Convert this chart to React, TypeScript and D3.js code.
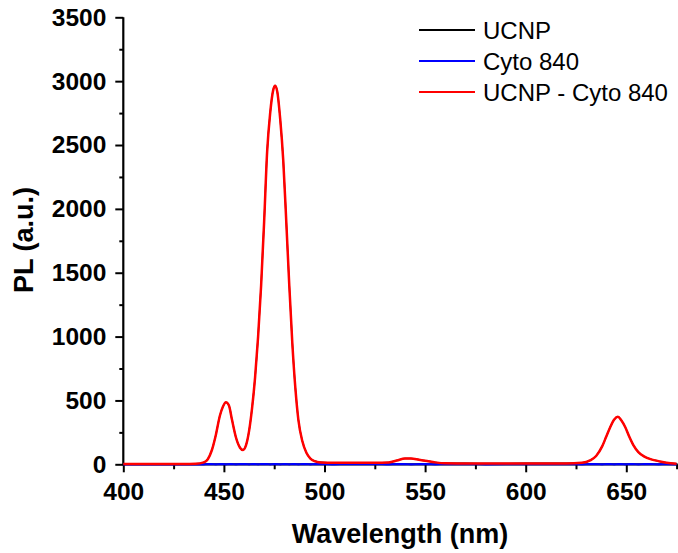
import { useEffect, useRef } from 'react';
import * as d3 from 'd3';

// wavelength grid (nm) and the three spectra
const wavelengths = [
  400, 410, 420, 430, 436, 440, 442, 444, 446, 448, 449.5, 451, 452.5, 454, 456, 458, 459.5,
  461, 462.5, 464, 465.5, 467, 468.5, 470, 471.5, 473, 474.5, 475.5, 476.5, 478, 479.5, 481,
  482.5, 484, 485.5, 487, 489, 491, 493, 495, 498, 505, 515, 525, 532, 536, 540, 543, 547,
  551, 555, 560, 570, 580, 600, 620, 628, 632, 635, 638, 640, 642, 644, 645.8, 647.5, 649.5,
  651.5, 653.5, 656, 659, 662, 666, 670, 675,
];
const ucnpMinusCyto = [
  2, 2, 2, 2, 4, 15, 40, 110, 230, 380, 450, 485, 460, 350, 210, 130, 112,
  150, 260, 440, 680, 1000, 1400, 1900, 2450, 2750, 2930, 2965, 2920, 2700, 2380, 1900,
  1400, 950, 600, 350, 180, 90, 45, 25, 15, 12, 12, 12, 15, 30, 45, 45, 35,
  25, 15, 8, 7, 7, 7, 7, 12, 30, 65, 140, 215, 290, 350, 372, 345, 290,
  215, 150, 95, 60, 40, 25, 12, 5,
];
const cyto840 = [
  0, 0, 0, 0, 0, 0, 1, 1, 0, 1, 1, 0, 1, 1, 0, 1, 1,
  1, 0, 1, 1, 0, 1, 1, 1, 0, 1, 1, 1, 0, 1, 1,
  0, 1, 1, 0, 1, 1, 0, 1, 1, 0, 1, 1, 0, 1, 1, 0, 1,
  1, 0, 1, 1, 0, 1, 1, 0, 1, 1, 0, 1, 1, 0, 1, 1, 0,
  1, 1, 0, 1, 1, 0, 1, 0,
];
const ucnp = [
  2, 2, 2, 2, 4, 15, 41, 111, 230, 381, 451, 485, 461, 351, 210, 131, 113,
  151, 260, 441, 681, 1000, 1401, 1901, 2451, 2750, 2931, 2966, 2921, 2700, 2381, 1901,
  1400, 951, 601, 350, 181, 91, 45, 26, 16, 12, 13, 13, 15, 31, 46, 45, 36,
  26, 15, 9, 8, 7, 8, 8, 12, 31, 66, 140, 216, 291, 350, 373, 346, 290,
  216, 151, 95, 61, 41, 25, 13, 5,
];

const seriesNames = ['UCNP', 'Cyto 840', 'UCNP - Cyto 840'];
const seriesColors = ['#000000', '#0000ff', '#ff0000'];
const seriesWidths = [1.4, 2.2, 2.5];
const xMajorTicks = [400, 450, 500, 550, 600, 650];
const xMinorTicks = [425, 475, 525, 575, 625, 675];
const yMajorTicks = [0, 500, 1000, 1500, 2000, 2500, 3000, 3500];
const yMinorTicks = [250, 750, 1250, 1750, 2250, 2750, 3250];

const width = 678;
const height = 553;
const font = "'Liberation Sans', Arial, sans-serif";

const App = () => {
  const ref = useRef<SVGSVGElement>(null);

  useEffect(() => {
    const svg = d3.select(ref.current);
    svg.selectAll('*').remove();

    const x = d3.scaleLinear().domain([400, 675]).range([123.3, 676.6]);
    const y = d3.scaleLinear().domain([0, 3500]).range([464.3, 17.3]);

    // minor ticks
    const gxMinor = svg.append('g')
      .attr('transform', `translate(0,${y(0)})`)
      .call(d3.axisBottom(x).tickValues(xMinorTicks).tickSize(5).tickSizeOuter(0).tickFormat(() => ''));
    const gyMinor = svg.append('g')
      .attr('transform', `translate(${x(400)},0)`)
      .call(d3.axisLeft(y).tickValues(yMinorTicks).tickSize(4).tickSizeOuter(0).tickFormat(() => ''));
    [gxMinor, gyMinor].forEach(g => {
      g.select('.domain').remove();
      g.selectAll('line').attr('stroke-width', 2);
    });

    // major ticks + labels
    const gx = svg.append('g')
      .attr('transform', `translate(0,${y(0)})`)
      .call(d3.axisBottom(x).tickValues(xMajorTicks).tickSize(8).tickSizeOuter(0).tickPadding(10).tickFormat(d3.format('d')));
    const gy = svg.append('g')
      .attr('transform', `translate(${x(400)},0)`)
      .call(d3.axisLeft(y).tickValues(yMajorTicks).tickSize(8).tickSizeOuter(0).tickPadding(9).tickFormat(d3.format('d')));
    [gx, gy].forEach(g => {
      g.select('.domain').attr('stroke-width', 2.2);
      g.selectAll('line').attr('stroke-width', 2);
      g.selectAll('text')
        .attr('font-family', font)
        .attr('font-size', 24.5)
        .attr('font-weight', 'bold')
        .attr('fill', '#000');
    });
    gx.select('.domain').attr('d', `M${x(400)},0H${x(675) + 1}`);
    gy.select('.domain').attr('d', `M0,${y(0) + 1}V${y(3500)}`);

    // spectra on top of the axes: black under blue under red
    const series = [ucnp, cyto840, ucnpMinusCyto];
    const line = d3.line<number>()
      .x((d, i) => x(wavelengths[i]))
      .y(d => y(d))
      .curve(d3.curveMonotoneX);

    series.forEach((vals, k) => {
      svg.append('path')
        .datum(vals)
        .attr('d', line)
        .attr('fill', 'none')
        .attr('stroke', seriesColors[k])
        .attr('stroke-width', seriesWidths[k])
        .attr('stroke-linejoin', 'round');
    });

    // axis titles
    svg.append('text')
      .attr('x', 400)
      .attr('y', 543)
      .attr('text-anchor', 'middle')
      .attr('font-family', font)
      .attr('font-size', 27)
      .attr('font-weight', 'bold')
      .text('Wavelength (nm)');

    svg.append('text')
      .attr('transform', `translate(33,240) rotate(-90)`)
      .attr('text-anchor', 'middle')
      .attr('font-family', font)
      .attr('font-size', 27)
      .attr('font-weight', 'bold')
      .text('PL (a.u.)');

    // legend
    const legend = svg.append('g');
    seriesNames.forEach((name, k) => {
      const ly = 30 + k * 31;
      legend.append('line')
        .attr('x1', 419).attr('x2', 475)
        .attr('y1', ly).attr('y2', ly)
        .attr('stroke', seriesColors[k])
        .attr('stroke-width', 2.2);
      legend.append('text')
        .attr('x', 483)
        .attr('y', ly + 8.5)
        .attr('font-family', font)
        .attr('font-size', 24)
        .text(name);
    });
  }, []);

  return (
    <svg
      ref={ref}
      width={width}
      height={height}
      style={{ position: 'absolute', left: 0, top: 0, background: '#fff' }}
    />
  );
};

export default App;
